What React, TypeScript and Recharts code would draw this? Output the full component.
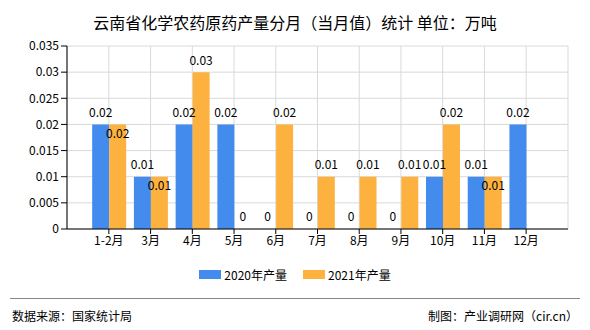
import { Bar, BarChart, CartesianGrid, LabelList, Legend, XAxis, YAxis } from "recharts"

const months = ["1-2月", "3月", "4月", "5月", "6月", "7月", "8月", "9月", "10月", "11月", "12月"]
const output2020 = [0.02, 0.01, 0.02, 0.02, 0, 0, 0, 0, 0.01, 0.01, 0.02]
const output2021: (number | null)[] = [0.02, 0.01, 0.03, 0, 0.02, 0.01, 0.01, 0.01, 0.02, 0.01, null]
const yTicks = [0, 0.005, 0.01, 0.015, 0.02, 0.025, 0.03, 0.035]

const data = months.map((m, i) => ({ month: m, y2020: output2020[i], y2021: output2021[i] }))

const BLUE = "#438bed"
const ORANGE = "#fdb23f"
const FONT = "'Noto Sans CJK SC', sans-serif"

// 2020 labels sit above the bar
const topLabel = (p: any) => {
  if (p.value == null) return null
  return (
    <text x={p.x + p.width / 2} y={p.y - 13} textAnchor="middle" dominantBaseline="central" fontSize={12} fill="#000">
      {p.value}
    </text>
  )
}

// 2021 labels drop inside the bar when they would collide with the 2020 label
const label2021 = (p: any) => {
  if (p.value == null) return null
  const clash = output2020[p.index] === p.value
  return (
    <text x={p.x + p.width / 2} y={clash ? p.y + 8 : p.y - 13} textAnchor="middle" dominantBaseline="central" fontSize={12} fill="#000">
      {p.value}
    </text>
  )
}

const renderLegend = (props: any) => (
  <div style={{ display: "flex", justifyContent: "center", gap: 16, fontSize: 12, color: "#000" }}>
    {props.payload.map((e: any) => (
      <div key={e.value} style={{ display: "flex", alignItems: "center" }}>
        <span style={{ display: "inline-block", width: 22, height: 9, background: e.color, marginRight: 3 }} />
        <span>{e.value}</span>
      </div>
    ))}
  </div>
)

export default function App() {
  return (
    <div style={{ position: "absolute", left: 0, top: 0, width: 590, height: 330, background: "#fff", fontFamily: FONT }}>
      <div style={{ position: "absolute", top: 10, width: 590, textAlign: "center", fontSize: 16, color: "#000" }}>
        云南省化学农药原药产量分月（当月值）统计 单位：万吨
      </div>
      <BarChart
        width={590}
        height={330}
        data={data}
        margin={{ top: 46, right: 22, bottom: 51, left: 0 }}
        barGap={0}
        barCategoryGap="10%"
      >
        <CartesianGrid stroke="#d9d9d9" />
        <XAxis
          dataKey="month"
          padding={{ left: 21, right: 21 }}
          interval={0}
          height={30}
          tickSize={5}
          axisLine={{ stroke: "#000" }}
          tickLine={{ stroke: "#000" }}
          tick={{ fill: "#000", fontSize: 12 }}
        />
        <YAxis
          domain={[0, 0.035]}
          ticks={yTicks}
          width={67}
          axisLine={{ stroke: "#000" }}
          tickLine={{ stroke: "#000" }}
          tick={{ fill: "#000", fontSize: 12 }}
        />
        <YAxis yAxisId="r" orientation="right" width={0} tick={false} tickLine={false} axisLine={{ stroke: "#d9d9d9" }} />
        <Legend verticalAlign="bottom" height={20} wrapperStyle={{ top: 266, left: 0, width: 590 }} content={renderLegend} />
        <Bar dataKey="y2020" name="2020年产量" fill={BLUE} minPointSize={0.01} isAnimationActive={false}>
          <LabelList dataKey="y2020" content={topLabel} />
        </Bar>
        <Bar dataKey="y2021" name="2021年产量" fill={ORANGE} minPointSize={0.01} isAnimationActive={false}>
          <LabelList dataKey="y2021" content={label2021} />
        </Bar>
      </BarChart>
      <div style={{ position: "absolute", left: 10, top: 298, width: 570, borderTop: "1px solid #888" }} />
      <div style={{ position: "absolute", left: 12, top: 307, fontSize: 12, color: "#000" }}>数据来源：国家统计局</div>
      <div style={{ position: "absolute", right: 12, top: 307, fontSize: 12, color: "#000" }}>制图：产业调研网（cir.cn）</div>
    </div>
  )
}
